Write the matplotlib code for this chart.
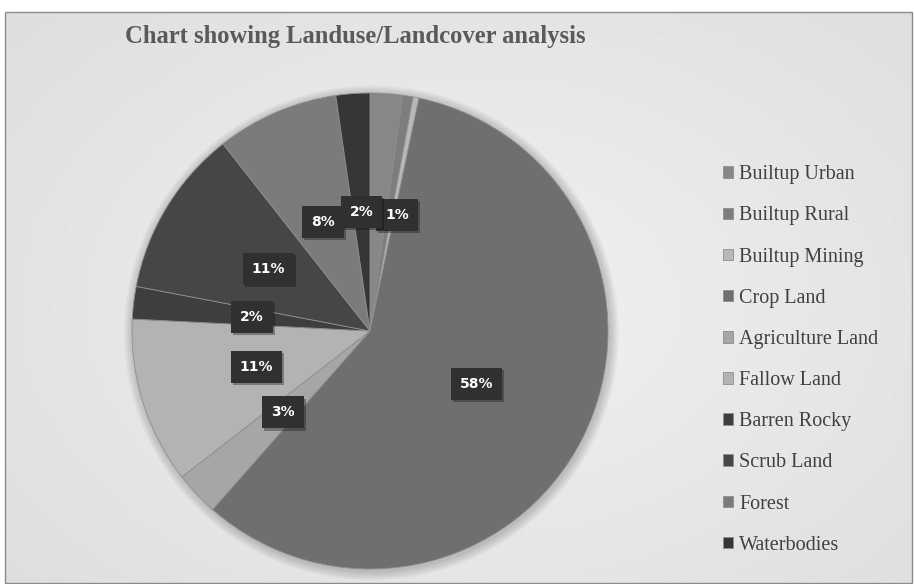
import numpy as np
import matplotlib
matplotlib.use("Agg")
import matplotlib.pyplot as plt
from matplotlib.patches import Rectangle, Circle
from matplotlib import patheffects as pe

categories = ["Builtup Urban", "Builtup Rural", "Builtup Mining", "Crop Land",
              "Agriculture Land", "Fallow Land", "Barren Rocky", "Scrub Land",
              "Forest", "Waterbodies"]
values = [2.2, 0.7, 0.4, 58.2, 3.0, 11.3, 2.2, 11.4, 8.3, 2.3]
shown_labels = ["", "1%", "", "58%", "3%", "11%", "2%", "11%", "8%", "2%"]
colors = ["#878787", "#7d7d7d", "#b8b8b8", "#6f6f6f", "#a6a6a6",
          "#b3b3b3", "#3e3e3e", "#464646", "#7b7b7b", "#363636"]
title = "Chart showing Landuse/Landcover analysis"

W, H = 914, 584
fig = plt.figure(figsize=(W / 100, H / 100), dpi=100)
fig.patch.set_facecolor("white")

# background panel with soft gradient
bg = fig.add_axes([0, 0, 1, 1], zorder=0)
bg.set_xlim(0, W)
bg.set_ylim(H, 0)
bg.axis("off")
yy, xx = np.mgrid[0:H, 0:W]
d = np.sqrt(((xx - 480) / 600.0) ** 2 + ((yy - 300) / 420.0) ** 2)
img = 0.945 - 0.07 * np.clip(d, 0, 1.3)
bg.imshow(img, cmap="gray", vmin=0, vmax=1, extent=[5, W - 2, H - 1, 12],
          aspect="auto", interpolation="bilinear")
bg.add_patch(Rectangle((5, 12), W - 7, H - 13, fill=False, ec="#8c8c8c", lw=1.0))

# pie
cx, cy, r = 370, 331, 238
ax = fig.add_axes([(cx - r) / W, (H - cy - r) / H, 2 * r / W, 2 * r / H], zorder=2)

wedges, _ = ax.pie(values, colors=colors, startangle=90, counterclock=False,
                   radius=1.0, wedgeprops=dict(linewidth=0.6, edgecolor="#8e8e8e"))
ax.set_xlim(-1.0, 1.0)
ax.set_ylim(-1.0, 1.0)
ax.set_aspect("equal")
ax.axis("off")
for w in wedges:
    w.set_zorder(1)

# faint outer shadow
for k in range(8):
    ax.add_patch(Circle((0.006, -0.008), 1.0 + 0.005 * (k + 1), color="black",
                        alpha=0.025, lw=0, zorder=0, clip_on=False))

nudge = {1: -4.0}
for i, (w, lab) in enumerate(zip(wedges, shown_labels)):
    if not lab:
        continue
    ang = np.deg2rad((w.theta1 + w.theta2) / 2 + nudge.get(i, 0.0))
    x, y = 0.5 * np.cos(ang), 0.5 * np.sin(ang)
    t = ax.text(x, y, lab, ha="center", va="center", fontsize=10, fontweight="bold",
                color="white", family="DejaVu Sans", zorder=4,
                bbox=dict(boxstyle="square,pad=0.65", fc="#303030", ec="none"))
    t.get_bbox_patch().set_path_effects(
        [pe.SimplePatchShadow(offset=(1.5, -1.5), alpha=0.35), pe.Normal()])

fig.text(355 / W, 1 - 37 / H, title, ha="center", va="center", fontsize=17.7,
         fontweight="bold", color="#5a5a5a", family="Liberation Serif")

leg = fig.legend(wedges, categories, loc="center left",
                 bbox_to_anchor=(713 / W, 1 - 360 / H), frameon=False,
                 prop=dict(family="Liberation Serif", size=14.5),
                 handlelength=0.5, handleheight=0.5, handletextpad=0.3,
                 labelspacing=1.1, borderpad=0)
for t in leg.get_texts():
    t.set_color("#404040")

fig.savefig("out.png", dpi=100, facecolor=fig.get_facecolor())
